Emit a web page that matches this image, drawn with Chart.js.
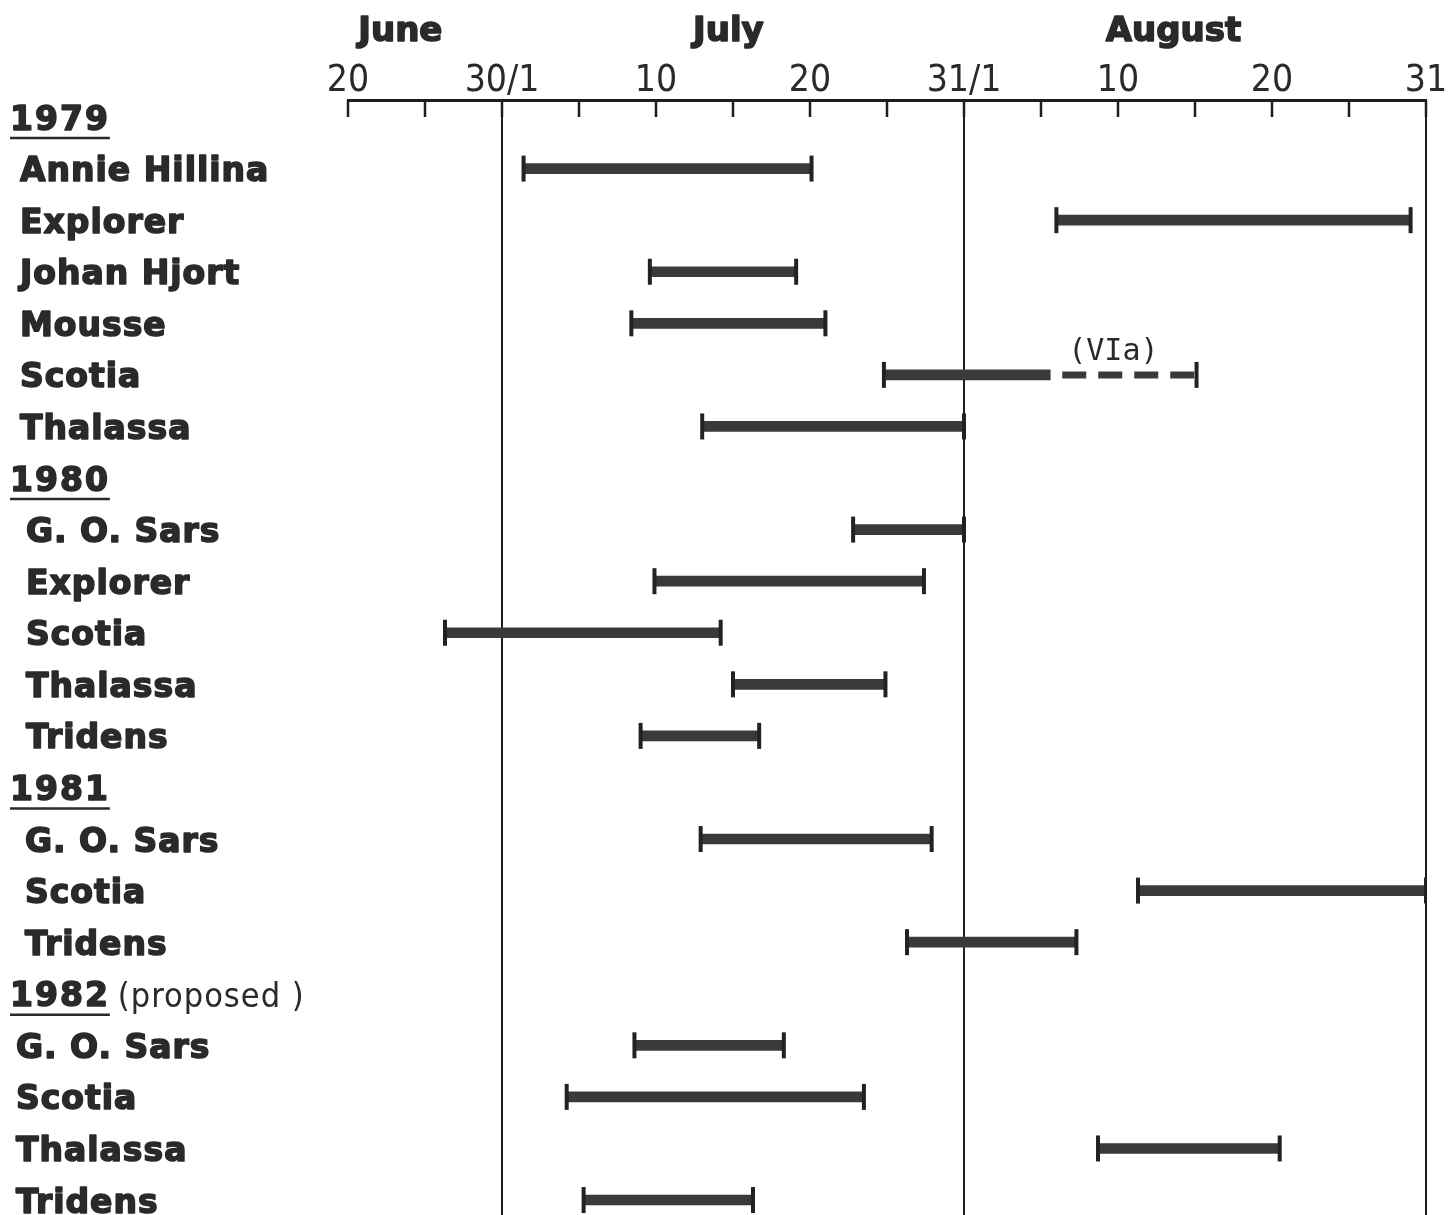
<!DOCTYPE html>
<html>
<head>
<meta charset="utf-8">
<script src="https://cdn.jsdelivr.net/npm/chart.js@4.4.1/dist/chart.umd.min.js"></script>
<style>
html,body{margin:0;padding:0;background:#fff;}
#wrap{width:1454px;height:1215px;position:relative;}
</style>
</head>
<body>
<div id="wrap"><canvas id="c" width="1454" height="1215"></canvas></div>
<script>
// Axis units: one tick interval = 5 units.
// 0 = 20 June, 10 = 30 June / 1 July, 40 = 31 July / 1 August, 70 = 31 August
const tickValues = [0, 5, 10, 15, 20, 25, 30, 35, 40, 45, 50, 55, 60, 65, 70];
const tickLabels = ['20', '', '30/1', '', '10', '', '20', '', '31/1', '', '10', '', '20', '', '31'];
const boundaryTicks = [10, 40, 70];
const monthNames = ['June', 'July', 'August'];
const monthCentres = [3.4, 24.7, 53.6];

const rowLabels = ['1979', 'Annie Hillina', 'Explorer', 'Johan Hjort', 'Mousse', 'Scotia', 'Thalassa',
                   '1980', 'G. O. Sars', 'Explorer', 'Scotia', 'Thalassa', 'Tridens',
                   '1981', 'G. O. Sars', 'Scotia', 'Tridens',
                   '1982', 'G. O. Sars', 'Scotia', 'Thalassa', 'Tridens'];
const yearRows = [0, 7, 13, 17];
const yearNotes = ['', '', '', '(proposed )'];

const barRows  = [1, 2, 3, 4, 5, 6, 8, 9, 10, 11, 12, 14, 15, 16, 18, 19, 20, 21];
const barStart = [11.4, 46.0, 19.6, 18.4, 34.8, 23.0, 32.8, 19.9, 6.3, 25.0, 19.0, 22.9, 51.3, 36.3, 18.6, 14.2, 48.7, 15.3];
const barEnd   = [30.1, 69.0, 29.1, 31.0, 45.6, 40.0, 40.0, 37.4, 24.2, 34.9, 26.7, 37.9, 70.0, 47.3, 28.3, 33.5, 60.5, 26.3];

const dashRows  = [5];
const dashStart = [45.6];
const dashEnd   = [55.1];
const dashNotes = ['(VIa)'];

const INK = '#2a2a2a';
const BAR = '#3a3a3a';
const NARROW = '"Liberation Sans Narrow", "DejaVu Sans Condensed", "Roboto Condensed", sans-serif';
const HEAVY = '"DejaVu Sans", "Liberation Sans", sans-serif';

const capPoints = [];
barRows.forEach((r, i) => {
  capPoints.push({x: barStart[i], y: r});
  if (!dashRows.includes(r)) capPoints.push({x: barEnd[i], y: r});
});
dashRows.forEach((r, i) => capPoints.push({x: dashEnd[i], y: r}));

const datasets = [
  {
    type: 'bar',
    indexAxis: 'y',
    data: barRows.map((r, i) => ({y: r, x: [barStart[i], barEnd[i]]})),
    backgroundColor: BAR,
    borderWidth: 0,
    barThickness: 10,
    xAxisID: 'x', yAxisID: 'y',
    order: 2
  },
  ...dashRows.map((r, i) => ({
    type: 'line',
    data: [{x: dashStart[i], y: r}, {x: dashEnd[i], y: r}],
    borderColor: BAR,
    borderWidth: 7,
    borderDash: [24, 12],
    borderDashOffset: 24,
    pointRadius: 0,
    fill: false,
    xAxisID: 'x', yAxisID: 'y',
    order: 1
  })),
  {
    type: 'scatter',
    data: capPoints,
    pointStyle: 'line',
    rotation: 90,
    radius: 13,
    pointRadius: 13,
    borderColor: '#222',
    borderWidth: 4,
    backgroundColor: '#222',
    xAxisID: 'x', yAxisID: 'y',
    order: 0
  }
];

function heavyText(ctx, text, x, y) {
  ctx.fillText(text, x, y);
  ctx.strokeText(text, x, y);
}

const decor = {
  id: 'decor',
  afterDraw(chart) {
    const ctx = chart.ctx;
    const xs = chart.scales.x, ys = chart.scales.y;
    const top = chart.chartArea.top;
    ctx.save();
    // short downward tick marks
    ctx.strokeStyle = '#1e1e1e';
    ctx.lineWidth = 2.5;
    tickValues.forEach(v => {
      const x = xs.getPixelForValue(v);
      ctx.beginPath();
      ctx.moveTo(x, top);
      ctx.lineTo(x, top + 17);
      ctx.stroke();
    });
    // month names
    ctx.fillStyle = INK;
    ctx.strokeStyle = INK;
    ctx.lineWidth = 1.6;
    ctx.lineJoin = 'round';
    ctx.textAlign = 'center';
    ctx.textBaseline = 'alphabetic';
    ctx.font = 'bold 34px ' + HEAVY;
    monthNames.forEach((m, i) => heavyText(ctx, m, xs.getPixelForValue(monthCentres[i]), 41));
    // row labels
    ctx.textBaseline = 'middle';
    ctx.textAlign = 'left';
    let group = -1;
    const shipIndent = [20, 26, 25, 16];
    rowLabels.forEach((lab, i) => {
      const y = ys.getPixelForValue(i) + 4;
      const yi = yearRows.indexOf(i);
      ctx.lineWidth = 1.6;
      if (yi >= 0) {
        group = yi;
        ctx.font = 'bold 33px ' + HEAVY;
        ctx.letterSpacing = '2px';
        const x = 10;
        heavyText(ctx, lab, x, y);
        const w = ctx.measureText(lab).width;
        ctx.letterSpacing = '0px';
        ctx.lineWidth = 2.5;
        ctx.beginPath();
        ctx.moveTo(x, y + 17);
        ctx.lineTo(x + w, y + 17);
        ctx.stroke();
        if (yearNotes[yi]) {
          ctx.font = '34px ' + NARROW;
          ctx.letterSpacing = '1px';
          ctx.fillText(yearNotes[yi], x + w + 8, y);
          ctx.letterSpacing = '0px';
        }
      } else {
        ctx.font = 'bold 33px ' + HEAVY;
        ctx.letterSpacing = '1px';
        heavyText(ctx, lab, shipIndent[group], y);
        ctx.letterSpacing = '0px';
      }
    });
    // notes over dashed segments
    ctx.font = '30px "DejaVu Sans Mono", "Liberation Mono", monospace';
    ctx.textAlign = 'center';
    ctx.textBaseline = 'alphabetic';
    dashRows.forEach((r, i) => {
      const x = (xs.getPixelForValue(dashStart[i]) + xs.getPixelForValue(dashEnd[i])) / 2 - 10;
      const y = ys.getPixelForValue(r) - 15;
      ctx.fillText(dashNotes[i], x, y);
    });
    ctx.restore();
  }
};

new Chart(document.getElementById('c'), {
  type: 'bar',
  data: {datasets},
  plugins: [decor],
  options: {
    responsive: false,
    devicePixelRatio: 1,
    animation: false,
    layout: {autoPadding: false, padding: {left: 348, right: 28, top: 0, bottom: 0}},
    plugins: {legend: {display: false}, tooltip: {enabled: false}},
    scales: {
      x: {
        type: 'linear', position: 'top', min: 0, max: 70, offset: false,
        afterBuildTicks: s => { s.ticks = tickValues.map(v => ({value: v})); },
        afterFit: s => { s.height = 100; },
        ticks: {
          autoSkip: false, maxRotation: 0, minRotation: 0, padding: -4, color: INK,
          font: {family: NARROW, size: 37},
          callback: (v, i) => tickLabels[i]
        },
        grid: {
          offset: false, drawTicks: false, drawOnChartArea: true, lineWidth: 2,
          color: c => (c.tick && boundaryTicks.includes(c.tick.value)) ? '#1e1e1e' : 'rgba(0,0,0,0)'
        },
        border: {display: true, color: '#1e1e1e', width: 3}
      },
      y: {
        type: 'linear', reverse: true, min: -0.33, max: 21.29, offset: false, display: false,
        grid: {offset: false}
      }
    }
  }
});
</script>
</body>
</html>
